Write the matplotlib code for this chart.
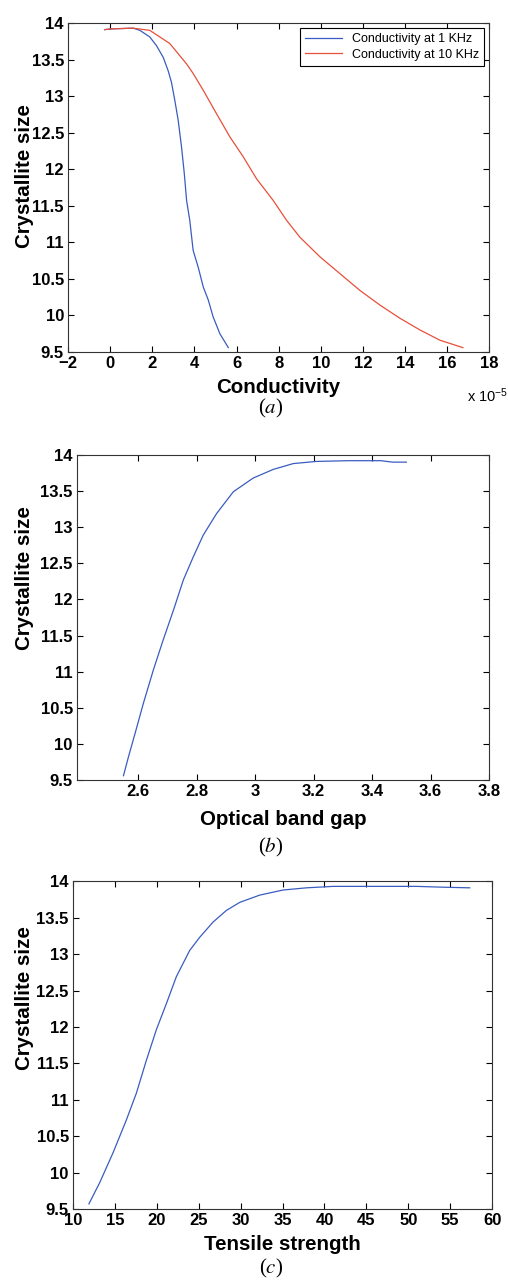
import numpy as np
import matplotlib.pyplot as plt

plt.rcParams['font.family'] = ['Liberation Sans', 'DejaVu Sans']
plt.rcParams['mathtext.fontset'] = 'stix'

# (a) conductivity in units of 1e-5
cond_1k_x = [-0.26, 0.06, 1.09, 1.41, 1.88, 2.2, 2.52, 2.75, 2.91, 3.07, 3.23, 3.39,
             3.52, 3.63, 3.78, 3.94, 4.18, 4.42, 4.66, 4.89, 5.21, 5.61]
cond_1k_y = [13.91, 13.92, 13.93, 13.90, 13.81, 13.69, 13.53, 13.35, 13.19, 12.94, 12.67, 12.30,
             11.94, 11.57, 11.30, 10.89, 10.66, 10.39, 10.21, 9.98, 9.75, 9.56]
cond_10k_x = [-0.26, 0.06, 1.09, 1.88, 2.83, 3.63, 3.94, 4.42, 5.05, 5.69, 6.32, 6.95, 7.75,
              8.38, 9.01, 9.97, 10.92, 11.87, 12.82, 13.77, 14.72, 15.67, 16.75]
cond_10k_y = [13.91, 13.92, 13.93, 13.90, 13.72, 13.44, 13.31, 13.08, 12.76, 12.44, 12.17, 11.87,
              11.57, 11.30, 11.07, 10.80, 10.57, 10.34, 10.14, 9.96, 9.80, 9.66, 9.56]

# (b) optical band gap
gap_x = [2.549, 2.566, 2.589, 2.617, 2.651, 2.685, 2.72, 2.754, 2.788, 2.822, 2.868, 2.925,
         2.993, 3.062, 3.13, 3.21, 3.32, 3.43, 3.47, 3.517]
gap_y = [9.56, 9.82, 10.15, 10.56, 11.02, 11.44, 11.85, 12.27, 12.59, 12.89, 13.19, 13.49,
         13.68, 13.80, 13.88, 13.91, 13.92, 13.92, 13.90, 13.90]

# (c) tensile strength
tens_x = [11.9, 13.18, 14.77, 16.36, 17.56, 18.75, 19.94, 21.14, 22.33, 23.92, 25.11, 26.71,
          28.3, 29.89, 32.27, 35.06, 37.84, 41.03, 45.0, 50.97, 53.75, 57.33]
tens_y = [9.57, 9.86, 10.27, 10.72, 11.09, 11.54, 11.96, 12.32, 12.69, 13.05, 13.23, 13.44,
          13.60, 13.71, 13.81, 13.88, 13.91, 13.93, 13.93, 13.93, 13.92, 13.91]

y_ticks = [9.5, 10, 10.5, 11, 11.5, 12, 12.5, 13, 13.5, 14]
y_labels = ['9.5', '10', '10.5', '11', '11.5', '12', '12.5', '13', '13.5', '14']

BLUE = '#3a5cc0'
RED = '#e8503a'

fig = plt.figure(figsize=(5.08, 12.8), dpi=100)


def style_axes(ax, ylab_x, ylab_y, xlab_pad):
    ax.set_ylim(9.5, 14)
    ax.set_yticks(y_ticks)
    ax.set_yticklabels(y_labels)
    ax.tick_params(direction='in', top=True, right=True, length=4, width=0.8,
                   labelsize=12, pad=3)
    for lab in ax.get_xticklabels() + ax.get_yticklabels():
        lab.set_fontweight('bold')
    for s in ax.spines.values():
        s.set_linewidth(0.8)
        s.set_color('#333333')
    ax.set_ylabel('Crystallite size', fontsize=14.8, fontweight='bold')
    ax.yaxis.set_label_coords(ylab_x, ylab_y)
    ax.xaxis.labelpad = xlab_pad


# panel (a)
ax1 = fig.add_axes([0.134, 0.725, 0.829, 0.257])
ax1.plot(cond_1k_x, cond_1k_y, color=BLUE, lw=0.9, label='Conductivity at 1 KHz')
ax1.plot(cond_10k_x, cond_10k_y, color=RED, lw=0.9, label='Conductivity at 10 KHz')
ax1.set_xlim(-2, 18)
ax1.set_xticks(np.arange(-2, 19, 2))
ax1.set_xlabel('Conductivity', fontsize=14.8, fontweight='bold')
style_axes(ax1, -0.081, 0.535, 5)
leg = ax1.legend(loc='upper right', fontsize=9, handlelength=3.0, fancybox=False,
                 edgecolor='black', framealpha=1, borderaxespad=0.4, labelspacing=0.3)
leg.get_frame().set_linewidth(0.8)
ax1.text(0.948, -0.105, r'x 10$^{\mathregular{-5}}$', transform=ax1.transAxes,
         fontsize=10.5, ha='left', va='top')

# panel (b)
ax2 = fig.add_axes([0.1516, 0.3906, 0.811, 0.254])
ax2.plot(gap_x, gap_y, color=BLUE, lw=0.9)
ax2.set_xlim(2.39, 3.8)
ax2.set_xticks([2.6, 2.8, 3.0, 3.2, 3.4, 3.6, 3.8])
ax2.set_xticklabels(['2.6', '2.8', '3', '3.2', '3.4', '3.6', '3.8'])
ax2.set_xlabel('Optical band gap', fontsize=14.8, fontweight='bold')
style_axes(ax2, -0.104, 0.62, 8)

# panel (c)
ax3 = fig.add_axes([0.1437, 0.0555, 0.825, 0.256])
ax3.plot(tens_x, tens_y, color=BLUE, lw=0.9)
ax3.set_xlim(10, 60)
ax3.set_xticks(np.arange(10, 61, 5))
ax3.set_xlabel('Tensile strength', fontsize=14.8, fontweight='bold')
style_axes(ax3, -0.093, 0.643, 5)

# captions
for label, ypix in [('a', 408), ('b', 847), ('c', 1268)]:
    fig.text(0.533, 1 - ypix / 1280, '($%s$)' % label, fontsize=15,
             family='Liberation Serif', ha='center', va='center')

fig.savefig('out.png', dpi=100)
